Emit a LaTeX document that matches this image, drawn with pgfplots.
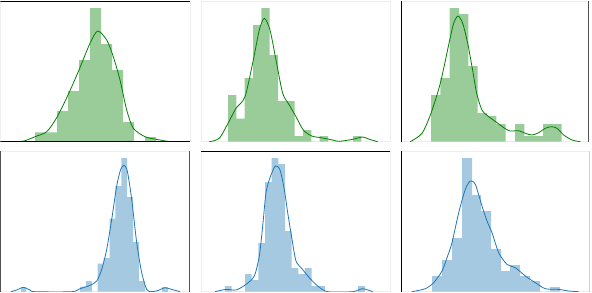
\documentclass[border=0pt]{standalone}
\usepackage{pgfplots}
\pgfplotsset{compat=1.18}
\definecolor{gfill}{RGB}{153,204,153}
\definecolor{gline}{RGB}{0,128,0}
\definecolor{bfill}{RGB}{165,201,225}
\definecolor{bline}{RGB}{31,119,180}
\definecolor{framec}{RGB}{238,238,238}
\pgfplotsset{
  panel/.style={scale only axis, anchor=south west, ymin=0, ymax=140.7,
    height=140.7pt, ticks=none, axis line style={draw=framec, line width=0.8pt}},
  gh/.style={ybar interval, fill=gfill, draw=none},
  bh/.style={ybar interval, fill=bfill, draw=none},
  gk/.style={smooth, tension=0.45, color=gline, line width=0.8pt, no markers},
  bk/.style={smooth, tension=0.45, color=bline, line width=0.8pt, no markers},
}
\begin{document}
\begin{tikzpicture}[x=1pt,y=1pt]
\useasboundingbox (0,0) rectangle (592,-292);
% ---------- top left
\begin{axis}[panel, at={(0.5,-141.7)}, xmin=0.5, xmax=190, width=189.5pt]
\addplot[gh] coordinates {(35,9.4) (46,9.4) (57,30.7) (68,50.7) (79,81.7) (90,133.7) (101,97.7) (112,71.7) (123,19.7) (134,0) (145,4.7) (156,0)};
\addplot[gk] coordinates {(18.3,0) (25,1) (35,5) (46.7,10) (56.7,24) (68,46.7) (79,71.7) (90,98.4) (97.7,110.7) (106.7,101.7) (113.3,85) (120,61.7) (126.7,31.7) (133.3,13.4) (145,5) (156,2.4) (170,0)};
\draw[black, line width=1pt] (rel axis cs:0,1) -- (rel axis cs:1,1);
\draw[black, line width=1pt] (rel axis cs:0,0) -- (rel axis cs:1,0);
\end{axis}
% ---------- top middle
\begin{axis}[panel, at={(201,-141.7)}, xmin=201, xmax=390, width=189pt]
\addplot[gh] coordinates {(228,46.7) (236.3,23) (244.7,63.7) (253,116.7) (261.3,133.7) (269.7,86.7) (278,40.7) (286.3,40.7) (294.7,5.7) (303,11.7) (311.3,0) (319.7,5.7) (328,0) (336.3,0) (344.7,0) (353,5.7) (361.3,0)};
\addplot[gk] coordinates {(209.3,0) (219.3,3.4) (228,18.4) (236,33.4) (245,45) (253.3,81.7) (259.3,111.7) (264.3,123.4) (270,111.7) (276,81.7) (282.7,48.4) (289.3,36.7) (296,25) (303.3,11.7) (311.7,5.7) (321,4) (329.3,2.4) (339.3,0.4) (352.7,2.4) (362.7,4.7) (369.3,2.4) (377.7,0)};
\end{axis}
% ---------- top right
\begin{axis}[panel, at={(401,-141.7)}, xmin=401, xmax=588.5, width=187.5pt]
\addplot[gh] coordinates {(431,46.7) (440.3,63.7) (449.7,133.7) (459,127.7) (468.3,75.7) (477.7,28.7) (487,25.7) (496.3,17.7) (505.7,0) (515,17.7) (524.3,5.7) (533.7,5.7) (543,17.7) (552.3,17.7) (561.7,0)};
\addplot[gk] coordinates {(410.3,0) (422,8.4) (431,28.4) (440.3,58.4) (449,98.4) (453.7,118.4) (458,125.7) (462.7,118.4) (467.7,98.4) (472,75) (476.7,48.4) (482,31.7) (488.7,25) (495.7,20) (504.7,13.4) (510.3,10.7) (518.7,11) (525.3,8.4) (532,6.7) (538.7,9) (545.3,13.4) (551.3,15) (557,13.4) (563.7,6.7) (572,1.7) (580.3,0)};
\draw[black, line width=1pt] (rel axis cs:0,0) -- (rel axis cs:0,1);
\draw[black, line width=1pt] (rel axis cs:1,0) -- (rel axis cs:1,1);
\end{axis}
% ---------- bottom left
\begin{axis}[panel, at={(0.5,-291.7)}, xmin=0.5, xmax=189.5, width=189pt]
\addplot[bh] coordinates {(80,5) (85.9,10.7) (91.8,0) (97.7,28) (103.6,33.7) (109.5,73) (115.4,105.7) (121.3,133.7) (127.2,94.7) (133.1,49.7) (139,10.7) (144.9,0)};
\addplot[bh] coordinates {(20.5,4.5) (26.4,0)};
\addplot[bh] coordinates {(162,4.5) (167.9,0)};
\addplot[bk] coordinates {(11,0) (16.7,1.7) (23.3,4.3) (30,1.7) (35,0) (71.7,0) (80,3) (90,6.3) (96.7,10.7) (101.7,22.3) (106.7,42.3) (111.7,72.3) (116.7,105.7) (120.7,122.3) (124,126.3) (127.3,120.7) (131.7,92.3) (136.7,49) (141.7,19) (146.7,2.3) (151.7,0) (158.3,1.3) (165,4) (171.7,2.3) (180,0)};
\draw[black, line width=1pt] (rel axis cs:0,0) -- (rel axis cs:0,1);
\draw[black, line width=1pt] (rel axis cs:1,0) -- (rel axis cs:1,1);
\end{axis}
% ---------- bottom middle
\begin{axis}[panel, at={(201,-291.7)}, xmin=201, xmax=390, width=189pt]
\addplot[bh] coordinates {(225,5.7) (231.7,0) (238.3,0) (245,17.7) (251.7,11.7) (258.3,48.7) (265,109.7) (271.7,133.7) (278.3,127.7) (285,60.7) (291.7,23.7) (298.3,17.7) (305,23.7) (311.7,5.7) (318.3,5.7) (325,0)};
\addplot[bh] coordinates {(358.3,5.7) (365,0)};
\addplot[bk] coordinates {(215,0) (226,2.3) (236,1.7) (246,7.3) (254.3,15.7) (259.3,35.7) (262.7,65.7) (266,99) (270,114) (275.3,125.7) (280,121.7) (284.3,102.3) (287.7,79) (292,52.3) (296,30.7) (302,23) (309.3,14) (317.7,5.7) (327.7,0) (352.7,0) (362.7,3) (372.7,0)};
\draw[black, line width=1pt] (rel axis cs:0,1) -- (rel axis cs:1,1);
\end{axis}
% ---------- bottom right
\begin{axis}[panel, at={(401,-291.7)}, xmin=401, xmax=589, width=188pt]
\addplot[bh] coordinates {(432,15.7) (442,31.7) (452,53.7) (462,133.7) (472,96.7) (481,80.7) (491,42.7) (501,20.7) (510,26.7) (520,15.7) (530,10.7) (540,0) (550,4.7) (560,0)};
\addplot[bk] coordinates {(412,0) (425.3,3) (433.7,9) (442,20.7) (447,34) (452,49) (458.7,79) (465.3,102.3) (470.3,110.7) (475.3,107.3) (482,85.7) (487,70.7) (492,59) (498.7,39) (507,27.3) (515.3,24) (525.3,15.7) (535.3,9) (545.3,3) (558.7,2.3) (568.7,0.7) (578.7,0)};
\draw[black, line width=1pt] (rel axis cs:0,0) -- (rel axis cs:0,1);
\draw[black, line width=1pt] (rel axis cs:1,0) -- (rel axis cs:1,1);
\end{axis}
\end{tikzpicture}
\end{document}
